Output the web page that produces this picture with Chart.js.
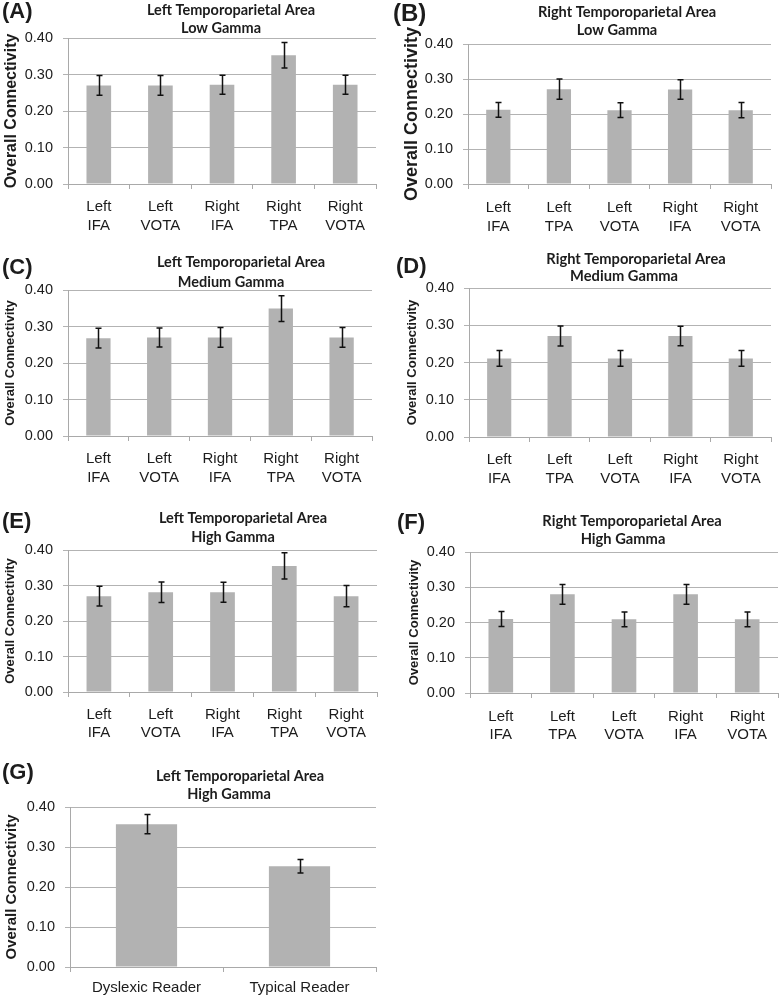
<!DOCTYPE html>
<html><head><meta charset="utf-8">
<script src="https://cdn.jsdelivr.net/npm/chart.js@4"></script>
<style>
html,body{margin:0;padding:0;background:#fff;width:781px;height:998px;overflow:hidden;}
canvas{position:absolute;}
</style></head><body>
<canvas id="cA" width="390" height="245" style="left:0px;top:0px"></canvas>
<canvas id="cB" width="391" height="245" style="left:390px;top:0px"></canvas>
<canvas id="cC" width="390" height="245" style="left:0px;top:250px"></canvas>
<canvas id="cD" width="391" height="245" style="left:390px;top:250px"></canvas>
<canvas id="cE" width="390" height="245" style="left:0px;top:500px"></canvas>
<canvas id="cF" width="391" height="245" style="left:390px;top:500px"></canvas>
<canvas id="cG" width="390" height="248" style="left:0px;top:750px"></canvas>
<script>
// ---- data ----
const catsLeftTPA = [['Left','IFA'],['Left','VOTA'],['Right','IFA'],['Right','TPA'],['Right','VOTA']];
const catsRightTPA = [['Left','IFA'],['Left','TPA'],['Left','VOTA'],['Right','IFA'],['Right','VOTA']];
const catsReaders = ['Dyslexic Reader','Typical Reader'];
const yTicks = [0.00, 0.10, 0.20, 0.30, 0.40];

const meanA = [0.270, 0.270, 0.272, 0.353, 0.272];
const errA  = [0.027, 0.027, 0.026, 0.035, 0.026];
const meanB = [0.212, 0.271, 0.211, 0.270, 0.211];
const errB  = [0.021, 0.029, 0.021, 0.028, 0.022];
const meanC = [0.268, 0.270, 0.270, 0.349, 0.270];
const errC  = [0.027, 0.026, 0.027, 0.035, 0.027];
const meanD = [0.211, 0.271, 0.211, 0.271, 0.211];
const errD  = [0.021, 0.027, 0.021, 0.026, 0.021];
const meanE = [0.270, 0.281, 0.281, 0.355, 0.270];
const errE  = [0.028, 0.029, 0.028, 0.037, 0.030];
const meanF = [0.210, 0.280, 0.209, 0.280, 0.209];
const errF  = [0.021, 0.028, 0.021, 0.028, 0.021];
const meanG = [0.357, 0.252];
const errG  = [0.024, 0.017];

const titleLeft = 'Left Temporoparietal Area';
const titleRight = 'Right Temporoparietal Area';
const yTitle = 'Overall Connectivity';

// ---- style ----
const BAR = '#b2b2b2', GRID = '#b3b3b3', AXIS = '#a9a9a9', TXT = '#1c1c1c';
const ARIAL = '"Liberation Sans", Arial, sans-serif';
const TITLEFONT = 'Lato, "Open Sans", sans-serif';

// layout per panel (page coords)
const panels = [
 {id:'cA', cats:catsLeftTPA, mean:meanA, err:errA, t1:titleLeft, t2:'Low Gamma', label:'(A)',
  box:[0,0,390,245], area:[68,38,376,184], tx:[231,221], ty:[10,28], ts:14.5, lab:[2,12], labS:22,
  yts:16, ytx:12, catFirst:207, catLine:18.5},
 {id:'cB', cats:catsRightTPA, mean:meanB, err:errB, t1:titleRight, t2:'Low Gamma', label:'(B)',
  box:[390,0,391,245], area:[468,44,771,184], tx:[627,617], ty:[12,30], ts:14.6, lab:[393,14], labS:24,
  yts:18, ytx:412, catFirst:208, catLine:18.5},
 {id:'cC', cats:catsLeftTPA, mean:meanC, err:errC, t1:titleLeft, t2:'Medium Gamma', label:'(C)',
  box:[0,250,390,245], area:[68,290,372,436], tx:[241,231], ty:[262,282], ts:14.5, lab:[2,268], labS:22,
  yts:13, ytx:10, catFirst:459, catLine:18.5},
 {id:'cD', cats:catsRightTPA, mean:meanD, err:errD, t1:titleRight, t2:'Medium Gamma', label:'(D)',
  box:[390,250,391,245], area:[469,288,771,437], tx:[636,624], ty:[259,276], ts:14.7, lab:[396,267], labS:22,
  yts:13, ytx:412, catFirst:460, catLine:18.5},
 {id:'cE', cats:catsLeftTPA, mean:meanE, err:errE, t1:titleLeft, t2:'High Gamma', label:'(E)',
  box:[0,500,390,245], area:[68,550,377,692], tx:[243,233], ty:[518,537], ts:14.5, lab:[2,522], labS:22,
  yts:13, ytx:10, catFirst:715, catLine:17.5},
 {id:'cF', cats:catsRightTPA, mean:meanF, err:errF, t1:titleRight, t2:'High Gamma', label:'(F)',
  box:[390,500,391,245], area:[470,552,778,693], tx:[632,623], ty:[521,539], ts:14.7, lab:[397,523], labS:22,
  yts:13, ytx:414, catFirst:717, catLine:17.5},
 {id:'cG', cats:catsReaders, mean:meanG, err:errG, t1:titleLeft, t2:'High Gamma', label:'(G)',
  box:[0,750,390,248], area:[70,807,376,967], tx:[240,229], ty:[776,794], ts:14.5, lab:[2,773], labS:22,
  yts:15, ytx:12, catFirst:988, catLine:18},
];

function errorBarPlugin() {
  return {
    id: 'errorBars',
    afterDatasetsDraw(chart) {
      const ds = chart.data.datasets[0];
      const meta = chart.getDatasetMeta(0);
      const ys = chart.scales.y;
      const ctx = chart.ctx;
      ctx.save();
      ctx.strokeStyle = '#111';
      ctx.lineWidth = 1.5;
      const cap = 3;
      meta.data.forEach((bar, i) => {
        const v = ds.data[i], e = ds.errors[i];
        const x = Math.round(bar.x) + 0.5;
        const top = ys.getPixelForValue(v + e);
        const bot = ys.getPixelForValue(v - e);
        ctx.beginPath();
        ctx.moveTo(x, top); ctx.lineTo(x, bot);
        ctx.moveTo(x - cap, top); ctx.lineTo(x + cap, top);
        ctx.moveTo(x - cap, bot); ctx.lineTo(x + cap, bot);
        ctx.stroke();
      });
      ctx.restore();
    }
  };
}

function panelTextPlugin(p) {
  const ox = p.box[0], oy = p.box[1];
  return {
    id: 'panelText',
    afterDraw(chart) {
      const ctx = chart.ctx;
      ctx.save();
      ctx.fillStyle = TXT;
      ctx.textAlign = 'center';
      ctx.textBaseline = 'middle';
      ctx.font = 'bold ' + p.ts + 'px ' + TITLEFONT;
      ctx.fillText(p.t1, p.tx[0] - ox, p.ty[0] - oy);
      ctx.fillText(p.t2, p.tx[1] - ox, p.ty[1] - oy);
      ctx.textAlign = 'left';
      ctx.font = 'bold ' + p.labS + 'px ' + ARIAL;
      ctx.fillText(p.label, p.lab[0] - ox, p.lab[1] - oy);
      ctx.restore();
    }
  };
}

panels.forEach(p => {
  const [ox, oy, W, H] = p.box;
  const aL = p.area[0] - ox, aT = p.area[1] - oy, aR = p.area[2] - ox, aB = p.area[3] - oy;
  const tickSize = 14.5, tickGap = 15, catSize = 15;
  const yLH = p.yts * 1.2;
  new Chart(document.getElementById(p.id), {
    type: 'bar',
    data: {
      labels: p.cats,
      datasets: [{
        data: p.mean,
        errors: p.err,
        backgroundColor: BAR,
        borderWidth: 0,
        barPercentage: 0.4,
        categoryPercentage: 1.0
      }]
    },
    options: {
      responsive: false,
      animation: false,
      devicePixelRatio: 1,
      layout: { padding: { left: 0, top: aT, right: W - aR, bottom: 0 } },
      plugins: { legend: { display: false }, tooltip: { enabled: false }, title: { display: false } },
      scales: {
        x: {
          type: 'category',
          offset: true,
          grid: { display: true, drawOnChartArea: false, drawTicks: true, tickLength: 5, color: AXIS, offset: true, lineWidth: 1 },
          border: { display: true, color: AXIS, width: 1 },
          ticks: {
            color: TXT, autoSkip: false, maxRotation: 0, minRotation: 0,
            font: { family: ARIAL, size: catSize, lineHeight: p.catLine / catSize },
            padding: p.catFirst - p.area[3] - 5 - p.catLine / 2
          },
          afterFit: s => { s.height = H - aB; }
        },
        y: {
          min: 0, max: 0.4,
          afterBuildTicks: s => { s.ticks = yTicks.map(v => ({ value: v })); },
          grid: { color: GRID, drawTicks: true, tickLength: 5, lineWidth: 1 },
          border: { display: true, color: AXIS, width: 1 },
          ticks: {
            color: TXT, padding: tickGap - 5,
            font: { family: ARIAL, size: tickSize },
            callback: v => Number(v).toFixed(2)
          },
          title: {
            display: true, text: yTitle, color: TXT,
            font: { family: ARIAL, size: p.yts, weight: 'bold', lineHeight: 1.2 },
            padding: { top: (p.ytx - ox) - yLH / 2, bottom: 0 }
          },
          afterFit: s => { s.width = aL; }
        }
      }
    },
    plugins: [errorBarPlugin(), panelTextPlugin(p)]
  });
});
</script>
</body></html>
